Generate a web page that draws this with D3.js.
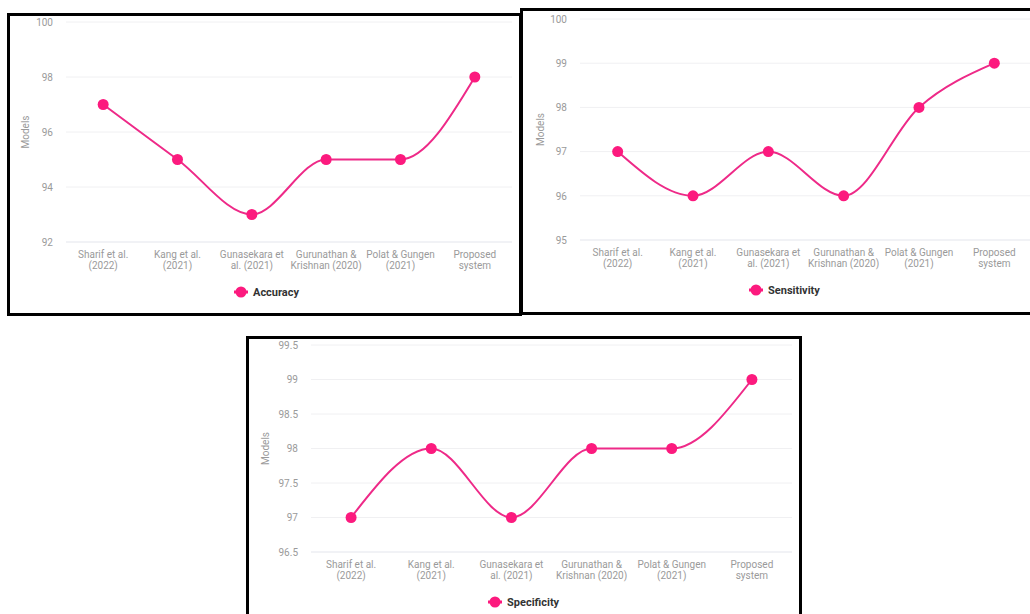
<!DOCTYPE html>
<html>
<head>
<meta charset="utf-8">
<script src="https://cdn.jsdelivr.net/npm/d3@7"></script>
<style>
  html, body { margin: 0; padding: 0; background: #fff; overflow: hidden; }
  svg { display: block; font-family: Roboto, "Noto Sans", sans-serif; }
</style>
</head>
<body>
<svg id="chart" width="1030" height="614"></svg>
<script>
// ---- data ----
const categories = [
  ["Sharif et al.", "(2022)"],
  ["Kang et al.", "(2021)"],
  ["Gunasekara et", "al. (2021)"],
  ["Gurunathan &", "Krishnan (2020)"],
  ["Polat & Gungen", "(2021)"],
  ["Proposed", "system"]
];
const accuracy    = [97, 95, 93, 95, 95, 98];
const sensitivity = [97, 96, 97, 96, 98, 99];
const specificity = [97, 98, 97, 98, 98, 99];

const accuracyTicks    = [92, 94, 96, 98, 100];
const sensitivityTicks = [95, 96, 97, 98, 99, 100];
const specificityTicks = [96.5, 97, 97.5, 98, 98.5, 99, 99.5];

// ---- layout ----
const panels = [
  { name: "Accuracy", values: accuracy, ticks: accuracyTicks,
    box: [8.5, 14.5, 512, 300], x: [66, 512], y: [242, 22], legendX: 241, titleDx: 41 },
  { name: "Sensitivity", values: sensitivity, ticks: sensitivityTicks,
    box: [521.5, 9.5, 530, 304], x: [580, 1032], y: [240, 19], legendX: 756, titleDx: 40 },
  { name: "Specificity", values: specificity, ticks: specificityTicks,
    box: [247.5, 337.5, 553, 300], x: [311, 792], y: [552, 345], legendX: 495, titleDx: 46 }
];

const pointColor = "#fc1a7e";
const lineColor = "#ee2a88";
const svg = d3.select("#chart");

panels.forEach((p, pi) => {
  const g = svg.append("g");
  const clipId = "clip" + pi;
  svg.append("clipPath").attr("id", clipId)
    .append("rect").attr("x", p.box[0]).attr("y", p.box[1]).attr("width", p.box[2]).attr("height", p.box[3]);

  const inner = g.append("g").attr("clip-path", `url(#${clipId})`);

  const xBand = d3.scaleBand().domain(d3.range(categories.length)).range(p.x);
  const xs = i => xBand(i) + xBand.bandwidth() / 2;
  const ext = d3.extent(p.ticks);
  const y = d3.scaleLinear().domain(ext).range(p.y);

  // grid lines
  inner.append("g").selectAll("line").data(p.ticks).join("line")
    .attr("x1", p.x[0]).attr("x2", p.x[1])
    .attr("y1", d => y(d)).attr("y2", d => y(d))
    .attr("stroke", d => d === ext[0] ? "#e3e5ec" : "#f0f0f2")
    .attr("stroke-width", 1);

  // y axis labels via d3 axis
  const yAxis = d3.axisLeft(y).tickValues(p.ticks).tickSize(0).tickPadding(13)
    .tickFormat(d3.format("~g"));
  const ya = inner.append("g").attr("transform", `translate(${p.x[0]},0)`).call(yAxis);
  ya.select(".domain").remove();
  ya.selectAll("text").attr("fill", "#9a9a9a").attr("font-size", 10)
    .attr("font-family", "Roboto, sans-serif");

  // x labels
  const xl = inner.append("g").selectAll("text").data(categories).join("text")
    .attr("x", (d, i) => xs(i))
    .attr("y", y(ext[0]) + 12)
    .attr("text-anchor", "middle")
    .attr("fill", "#9a9a9a").attr("font-size", 10);
  xl.each(function(d) {
    const t = d3.select(this);
    d.forEach((line, k) => {
      t.append("tspan").attr("x", t.attr("x")).attr("dy", k === 0 ? "0.35em" : "1.15em").text(line);
    });
  });

  // y title
  inner.append("text")
    .attr("transform", `translate(${p.x[0] - p.titleDx},${(p.y[0] + p.y[1]) / 2}) rotate(-90)`)
    .attr("text-anchor", "middle").attr("dy", "0.35em")
    .attr("fill", "#9a9a9a").attr("font-size", 10)
    .text("Models");

  // line
  const line = d3.line().x((d, i) => xs(i)).y(d => y(d)).curve(d3.curveMonotoneX);
  inner.append("path").datum(p.values)
    .attr("d", line).attr("fill", "none")
    .attr("stroke", lineColor).attr("stroke-width", 2);

  // points
  inner.append("g").selectAll("circle").data(p.values).join("circle")
    .attr("cx", (d, i) => xs(i)).attr("cy", d => y(d)).attr("r", 5.5)
    .attr("fill", pointColor);

  // legend
  const ly = y(ext[0]) + 50;
  const lg = inner.append("g").attr("transform", `translate(${p.legendX},${ly})`);
  lg.append("line").attr("x1", -7).attr("x2", 7).attr("y1", 0).attr("y2", 0)
    .attr("stroke", pointColor).attr("stroke-width", 3);
  lg.append("circle").attr("r", 5.5).attr("fill", pointColor);
  lg.append("text").attr("x", 12).attr("dy", "0.35em")
    .attr("font-size", 11).attr("font-weight", "bold").attr("fill", "#333")
    .text(p.name);

  // border
  g.append("rect").attr("x", p.box[0]).attr("y", p.box[1])
    .attr("width", p.box[2]).attr("height", p.box[3])
    .attr("fill", "none").attr("stroke", "#000").attr("stroke-width", 3);
});
</script>
</body>
</html>
